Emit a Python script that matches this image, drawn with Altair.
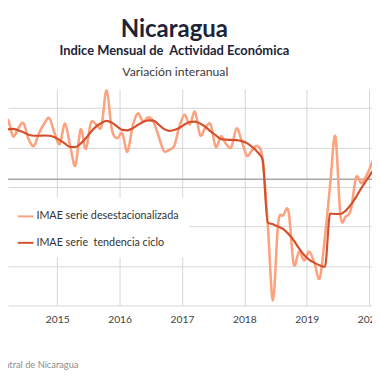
import altair as alt
import pandas as pd

years = [2014, 2015, 2016, 2017, 2018, 2019, 2020]
serie_desest = "IMAE serie desestacionalizada"
serie_tend = "IMAE serie\u00a0 tendencia ciclo"

# monthly values, Jan 2014 .. Feb 2020 (interannual variation, %)
desest = [
    5.8, 6.8, 7.55, 5.44, 6.43, 7.09, 5.07, 4.2, 5.81, 7.05, 7.71, 5.81,
    4.45, 7.05, 4.2, 1.72, 6.31, 3.83, 7.17, 6.93, 6.68, 11.26, 6.31, 5.19,
    5.81, 3.46, 6.68, 8.33, 7.3, 7.83, 7.3, 5.44, 3.58, 3.7, 4.2, 6.68,
    8.17, 6.93, 8.54, 5.56, 6.55, 6.93, 4.08, 5.44, 4.45, 4.08, 6.43, 4.82,
    2.96, 3.7, 4.2, 2.59, -5.71, -15.38, -5.59, -4.6, -4.1, -10.79, -9.18, -10.3,
    -9.18, -10.67, -12.53, -7.32, -0.76, 5.44, -4.72, -4.72, -3.85, 0.24, -0.51, 0.48,
    1.97, 3.58,
]
tendencia = [
    5.56, 5.93, 6.31, 6.37, 6.18, 5.93, 5.63, 5.5, 5.5, 5.53, 5.5, 5.32,
    4.94, 4.51, 4.08, 4.08, 4.51, 5.19, 6.0, 6.68, 7.11, 7.38, 7.17, 6.68,
    6.24, 6.18, 6.43, 6.86, 7.24, 7.45, 7.42, 6.93, 6.37, 6.12, 6.24, 6.49,
    6.93, 7.24, 7.3, 7.05, 6.62, 6.06, 5.56, 5.07, 5.01, 4.97, 4.94, 4.82,
    4.57, 4.08, 3.46, 2.47, -5.5, -5.71, -6.0, -6.33, -6.95, -7.76, -8.75, -9.62,
    -10.23, -10.61, -10.92, -11.1, -4.35, -4.41, -4.41, -3.98, -3.23, -2.24, -1.13, -0.14,
    0.85, 1.85,
]
grid_values = [-16, -11, -6, -1, 4, 9]

rows = []
for i in range(len(desest)):
    year = years[0] + i // 12
    month = i % 12 + 1
    t = year + (month - 0.5) / 12
    rows.append({"t": t, "v": desest[i], "serie": serie_desest})
    rows.append({"t": t, "v": tendencia[i], "serie": serie_tend})
df = pd.DataFrame(rows)

FONT = "Lato"
xscale = alt.Scale(domain=[2014.211, 2020.046], nice=False, zero=False)
yscale = alt.Scale(domain=[-16, 11.4], nice=False, zero=False)
cscale = alt.Scale(domain=[serie_desest, serie_tend], range=["#fca27f", "#d4502a"])

grid_col = "#d6d6d6"

base = alt.Chart(df)

light = base.transform_filter(alt.datum.serie == serie_desest).mark_line(
    interpolate="cardinal", strokeWidth=2.6, clip=True
).encode(
    x=alt.X("t:Q", scale=xscale, axis=alt.Axis(
        values=years, format="d", grid=True, gridColor=grid_col, domain=False,
        ticks=False, labelPadding=9, labelFontSize=10.5, labelColor="#404040",
        labelFont=FONT, labelFlush=False, labelOverlap=False, title=None)),
    y=alt.Y("v:Q", scale=yscale, axis=alt.Axis(
        values=grid_values, labels=False, ticks=False, domain=False, grid=True,
        gridColor=grid_col, title=None)),
    color=alt.Color("serie:N", scale=cscale, legend=alt.Legend(
        title=None, orient="none", legendX=-1, legendY=111, fillColor="white",
        padding=10, symbolType="stroke", symbolSize=256, symbolStrokeWidth=2,
        rowPadding=13, labelFontSize=11, labelFont=FONT, labelColor="#333333",
        labelOffset=2, labelLimit=400)),
)

dark = base.transform_filter(alt.datum.serie == serie_tend).mark_line(
    interpolate="monotone", strokeWidth=2.2, clip=True
).encode(
    x=alt.X("t:Q", scale=xscale),
    y=alt.Y("v:Q", scale=yscale),
    color=alt.Color("serie:N", scale=cscale),
)

zero = alt.Chart(pd.DataFrame({"v": [0]})).mark_rule(
    color="#a8a8a8", strokeWidth=1.5
).encode(y=alt.Y("v:Q", scale=yscale))

one = pd.DataFrame({"a": [0]})

def label(txt, x, y, size, weight="normal", color="#1f2a44", align="center"):
    return alt.Chart(one).mark_text(
        text=txt, fontSize=size, fontWeight=weight, color=color, font=FONT,
        align=align, baseline="middle"
    ).encode(x=alt.value(x), y=alt.value(y))

t1 = label("Nicaragua", 170, -60, 24.5, "bold", "#1d2438")
t2 = label("Indice Mensual de\u00a0 Actividad Económica", 170, -39, 13.2, "bold", "#1d2438")
t3 = label("Variación interanual", 171, -17, 12.5, "normal", "#3a3a3a")
foot = label("Fuente: Banco Central de Nicaragua", 72, 282, 9.5, "normal", "#8c8c8c", "right")

chart = alt.layer(zero, light, dark, t1, t2, t3, foot).properties(
    width=372, height=221,
    autosize=alt.AutoSizeParams(type="none"),
    padding={"left": 0, "top": 79, "right": 0, "bottom": 62},
).configure_view(stroke=None)

chart.save("out.html", embed_options={"renderer": "svg", "actions": False})
